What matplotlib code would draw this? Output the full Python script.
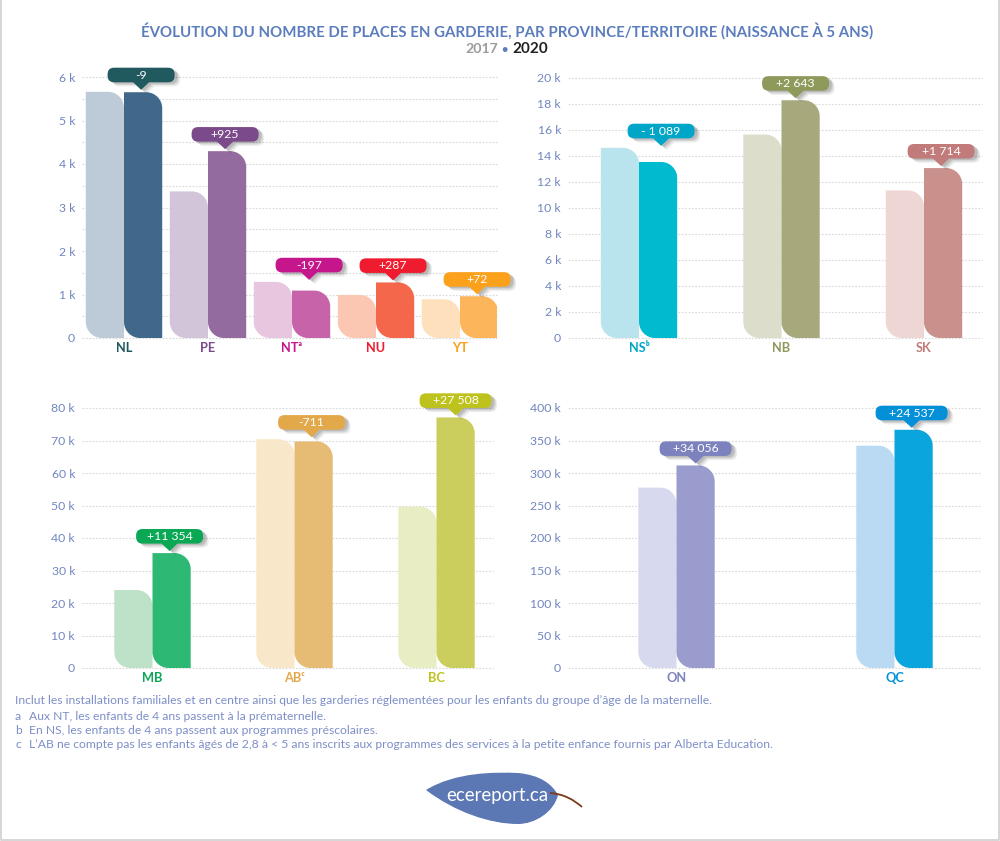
import matplotlib
matplotlib.use("Agg")
import matplotlib.pyplot as plt
import numpy as np
from matplotlib.patches import PathPatch
from matplotlib.path import Path
from matplotlib.transforms import Affine2D, IdentityTransform
import matplotlib.patheffects as pe

plt.rcParams["font.family"] = ["Lato", "DejaVu Sans"]

W, H = 1000, 841
BLUE = "#5b7dbd"
TICK = "#7286c0"
GRID = "#dadada"

# data, places in thousands
prov_a = ["NL", "PE", "NTᵃ", "NU", "YT"]
y2017_a = [5.66, 3.37, 1.29, 0.99, 0.89]
y2020_a = [5.65, 4.295, 1.09, 1.277, 0.96]
diff_a = ["-9", "+925", "-197", "+287", "+72"]

prov_b = ["NSᵇ", "NB", "SK"]
y2017_b = [14.63, 15.65, 11.35]
y2020_b = [13.54, 18.29, 13.07]
diff_b = ["- 1 089", "+2 643", "+1 714"]

prov_c = ["MB", "ABᶜ", "BC"]
y2017_c = [24.0, 70.4, 49.6]
y2020_c = [35.35, 69.7, 77.1]
diff_c = ["+11 354", "-711", "+27 508"]

prov_d = ["ON", "QC"]
y2017_d = [277.5, 342.0]
y2020_d = [311.6, 366.5]
diff_d = ["+34 056", "+24 537"]

# colours per province: light bar, dark bar, callout and label
colors = {
    "NL": ("#bccbd7", "#3f688a", "#205a5e"),
    "PE": ("#d2c5da", "#936b9e", "#7b4a8a"),
    "NTᵃ": ("#e9c6df", "#c763a8", "#c5168c"),
    "NU": ("#fcc7b2", "#f4674a", "#ee1c2e"),
    "YT": ("#fee0bd", "#fdb55c", "#fba11c"),
    "NSᵇ": ("#b9e4ed", "#00bad0", "#00a6c8"),
    "NB": ("#dcdecb", "#a7a97c", "#8e9a5c"),
    "SK": ("#edd6d3", "#c9908c", "#c17b7b"),
    "MB": ("#bde2c8", "#2db873", "#0aa855"),
    "ABᶜ": ("#f8e7c9", "#e6bb74", "#e3a84a"),
    "BC": ("#e9edc4", "#cbce5c", "#bec21c"),
    "ON": ("#d7d9ee", "#9a9ccd", "#7c82bd"),
    "QC": ("#bad9f3", "#0ba5de", "#0490d8"),
}

# callouts that sit off the usual spot, in pixels
tip_shift = {"NSᵇ": 3, "NB": -5, "BC": 0, "ON": 0}
wide_pills = ["BC", "ON", "QC"]

BAR_PX = 38.2


def rounded_bar(x0, x1, y0, y1):
    # square top left and bottom right, big round corners on the other two
    r = min(16, (y1 - y0) / 2)
    k = 0.45
    verts = [
        (x1, y0), (x0 + r, y0),
        (x0 + r * k, y0), (x0, y0 + r * k), (x0, y0 + r),
        (x0, y1), (x1 - r, y1),
        (x1 - r * k, y1), (x1, y1 - r * k), (x1, y1 - r),
        (x1, y0), (x1, y0),
    ]
    codes = [Path.MOVETO, Path.LINETO, Path.CURVE4, Path.CURVE4, Path.CURVE4,
             Path.LINETO, Path.LINETO, Path.CURVE4, Path.CURVE4, Path.CURVE4,
             Path.LINETO, Path.CLOSEPOLY]
    return Path(verts, codes)


def pill_path(width, height=14.6, gap=7.5, r=6.5):
    # pill with a small pointer, tip at the origin
    a, b = -width / 2, width / 2
    y0, y1 = gap, gap + height
    verts = [
        (0, 0), (8, y0), (b - r, y0), (b, y0), (b, y0 + r), (b, y1 - r),
        (b, y1), (b - r, y1), (a + r, y1), (a, y1), (a, y1 - r), (a, y0 + r),
        (a, y0), (a + r, y0), (-8, y0), (0, 0),
    ]
    codes = [Path.MOVETO, Path.LINETO, Path.LINETO, Path.CURVE3, Path.CURVE3,
             Path.LINETO, Path.CURVE3, Path.CURVE3, Path.LINETO, Path.CURVE3,
             Path.CURVE3, Path.LINETO, Path.CURVE3, Path.CURVE3, Path.LINETO,
             Path.CLOSEPOLY]
    return Path(verts, codes)


def draw_panel(box, first, step, ymax, yticks, grid_step, provs, v17, v20, diffs):
    left, right, top, bottom = box
    ax = fig.add_axes([left / W, 1 - bottom / H, (right - left) / W, (bottom - top) / H])
    ax.set_xlim((left - first) / step, (right - first) / step)
    ax.set_ylim(0, ymax)
    ax.patch.set_alpha(0)
    for s in ax.spines.values():
        s.set_visible(False)
    for g in np.arange(0, ymax + grid_step / 2, grid_step):
        ax.axhline(g, color=GRID, lw=0.8, ls=(0, (1.6, 1.4)), zorder=1, clip_on=False)
    ax.set_yticks(yticks)
    ax.set_yticklabels([f"{t:g} k" if t else "0" for t in yticks],
                       color=TICK, fontsize=8.8)
    ax.tick_params(axis="y", length=0, pad=5)
    ax.set_xticks(range(len(provs)))
    ax.set_xticklabels(provs, fontsize=9.2, fontweight="bold")
    ax.tick_params(axis="x", length=0, pad=3)
    for lab, p in zip(ax.get_xticklabels(), provs):
        lab.set_color(colors[p][2])

    fig.canvas.draw()
    w = BAR_PX / step
    for i, p in enumerate(provs):
        light, dark, accent = colors[p]
        for val, x0, c in [(v17[i], i - w, light), (v20[i], i, dark)]:
            (px0, py0) = ax.transData.transform((x0, 0))
            (px1, py1) = ax.transData.transform((x0 + w, val))
            ax.add_patch(PathPatch(rounded_bar(px0, px1, py0, py1), fc=c, ec="none",
                                   transform=IdentityTransform(), zorder=3))
        # callout points at the taller bar, over the 2020 one
        tx, ty = ax.transData.transform((i + w / 2, max(v17[i], v20[i])))
        tx += tip_shift.get(p, -2)
        ty += 2
        pw = 72 if p in wide_pills else 67
        pill = PathPatch(pill_path(pw), fc=accent, ec="none", zorder=5,
                         transform=Affine2D().translate(tx, ty), clip_on=False)
        pill.set_path_effects([
            pe.SimplePatchShadow(offset=(4, -3), shadow_rgbFace="#000000", alpha=0.07),
            pe.SimplePatchShadow(offset=(3, -2), shadow_rgbFace="#000000", alpha=0.1),
            pe.SimplePatchShadow(offset=(2, -1), shadow_rgbFace="#000000", alpha=0.12),
            pe.Normal(),
        ])
        ax.add_patch(pill)
        ax.text(tx, ty + 14.5, diffs[i], color="white", fontsize=8.8, ha="center",
                va="center", transform=IdentityTransform(), zorder=6)
    return ax


def ftext(x, y, s, **kw):
    # x, y in pixels from the top left
    return fig.text(x / W, 1 - y / H, s, **kw)


fig = plt.figure(figsize=(W / 100, H / 100), dpi=100, facecolor="white")

draw_panel((82, 497, 77, 338), 124, 84, 6, [0, 1, 2, 3, 4, 5, 6], 0.5,
           prov_a, y2017_a, y2020_a, diff_a)
draw_panel((568, 982, 78, 338), 639, 142.5, 20, list(range(0, 21, 2)), 2,
           prov_b, y2017_b, y2020_b, diff_b)
draw_panel((82, 493, 408, 668), 152.5, 142, 80, list(range(0, 81, 10)), 10,
           prov_c, y2017_c, y2020_c, diff_c)
draw_panel((568, 980, 408, 668), 676.5, 218, 400, list(range(0, 401, 50)), 50,
           prov_d, y2017_d, y2020_d, diff_d)

# titles
ftext(507, 31, "ÉVOLUTION DU NOMBRE DE PLACES EN GARDERIE, PAR PROVINCE/TERRITOIRE (NAISSANCE À 5 ANS)",
      color=BLUE, fontsize=10.85, fontweight="bold", ha="center", va="center")
ftext(481.5, 49, "2017", color="#9b9b9b", fontsize=10.2, fontweight="bold", ha="center", va="center")
ftext(504, 49, "•", color=BLUE, fontsize=8, fontweight="bold", ha="center", va="center")
ftext(530, 49, "2020", color="#222222", fontsize=11, fontweight="bold", ha="center", va="center")

# footnotes
NOTE = "#7d8ec8"
ftext(15, 701, "Inclut les installations familiales et en centre ainsi que les garderies réglementées pour les enfants du groupe d’âge de la maternelle.",
      color=NOTE, fontsize=8.73, va="center")
notes = [("a", "Aux NT, les enfants de 4 ans passent à la prématernelle."),
         ("b", "En NS, les enfants de 4 ans passent aux programmes préscolaires."),
         ("c", "L’AB ne compte pas les enfants âgés de 2,8 à < 5 ans inscrits aux programmes des services à la petite enfance fournis par Alberta Education.")]
for row, (mark, txt) in zip([716, 730, 745], notes):
    ftext(15, row, mark, color=NOTE, fontsize=8.73, va="center")
    ftext(29, row, txt, color=NOTE, fontsize=8.73, va="center")

# leaf logo, drawn in pixel space
overlay = fig.add_axes([0, 0, 1, 1])
overlay.set_xlim(0, W)
overlay.set_ylim(H, 0)
overlay.axis("off")
overlay.patch.set_alpha(0)
leaf = Path([(426, 790), (455, 772), (495, 772), (518, 773), (540, 775), (552, 784), (558, 795),
             (554, 812), (535, 824), (518, 824), (490, 824), (455, 812), (426, 790)],
            [Path.MOVETO] + [Path.CURVE4] * 12)
overlay.add_patch(PathPatch(leaf, fc="#5b78b5", ec="none"))
stem = Path([(550, 793), (564, 794), (574, 800), (582, 807)],
            [Path.MOVETO, Path.CURVE4, Path.CURVE4, Path.CURVE4])
overlay.add_patch(PathPatch(stem, fc="none", ec="#7a3a1a", lw=1.3))
overlay.text(497, 795, "ecereport.ca", color="white", fontsize=13.4, ha="center", va="center")

# thin frame left, right and bottom
overlay.plot([0.5, 0.5, 998.5, 998.5], [0, 839.5, 839.5, 0], color="#cfcfcf", lw=1.2, clip_on=False)

fig.savefig("out.png", dpi=100)
